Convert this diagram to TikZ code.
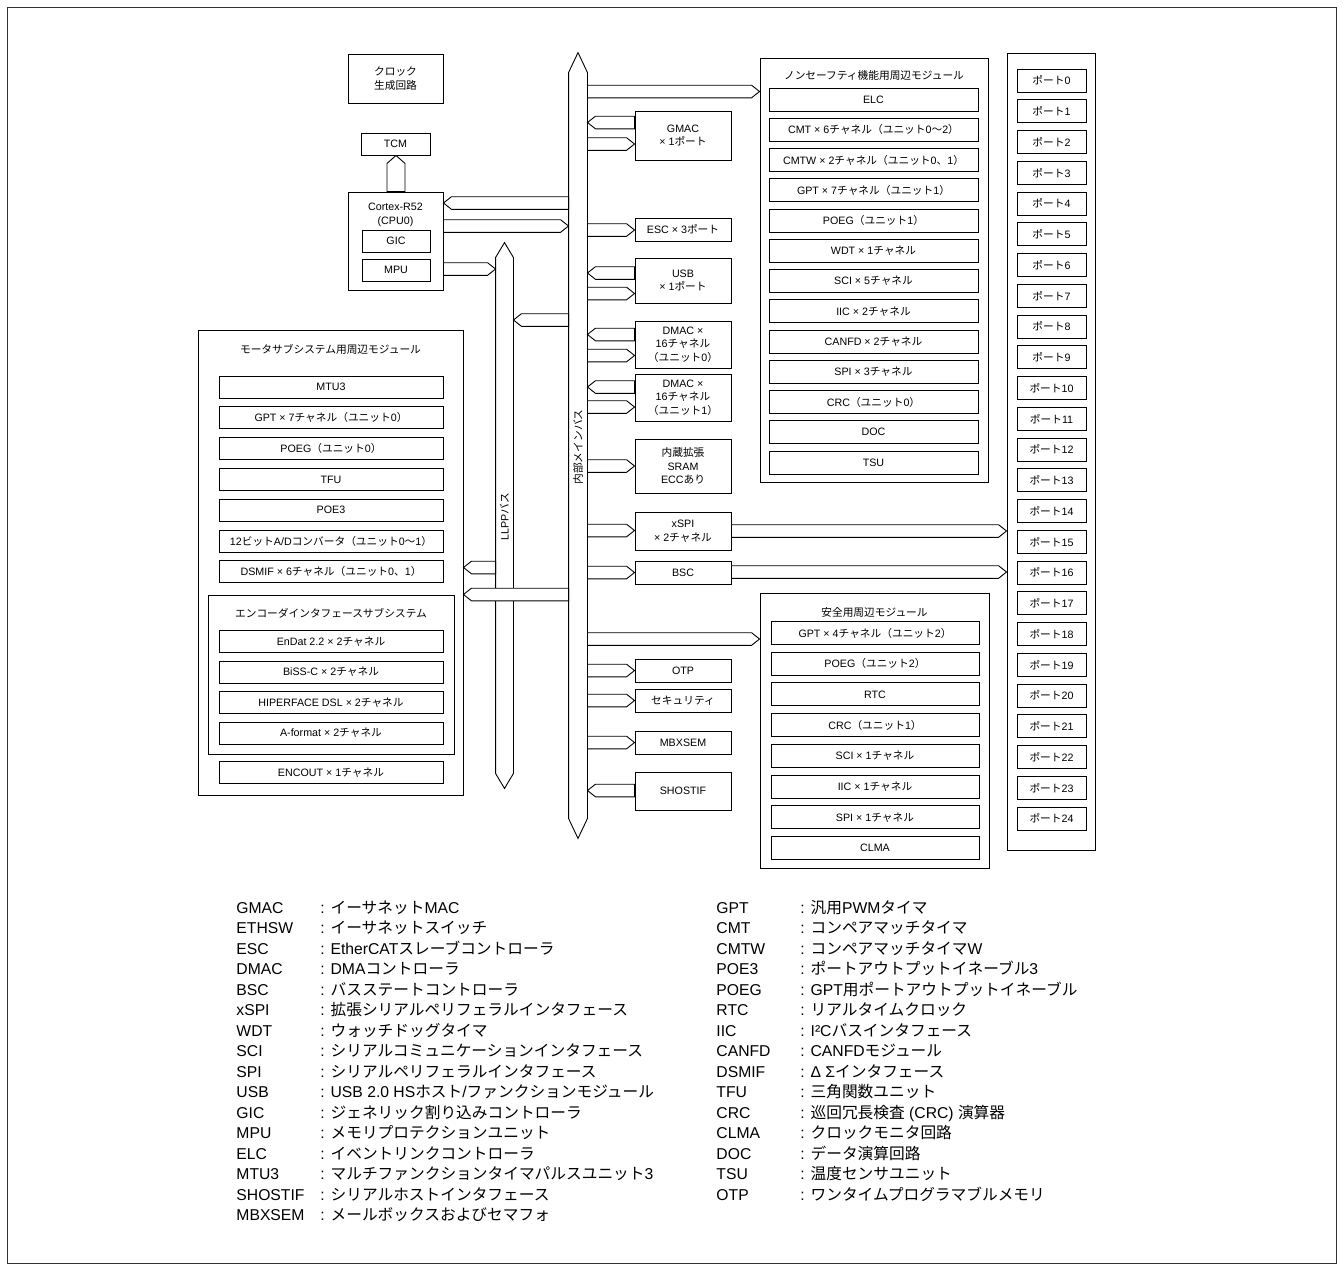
\documentclass[tikz,border=0pt]{standalone}
\usepackage{fontspec}
\setmainfont{Liberation Sans}
\newfontfamily\jpfont{Noto Sans CJK JP}
\usetikzlibrary{calc}

% Japanese runs are set in the CJK family
\newcommand{\jt}[1]{{\jpfont #1}}
\newcommand{\blkfont}{\fontsize{10.7}{13.5}\selectfont}
\newcommand{\legfont}{\fontsize{15.7}{19}\selectfont}

\tikzset{
  blk/.style={draw, fill=white, inner sep=0pt, align=center, font=\blkfont},
  midbox/.style={blk, minimum width=96pt},
  grpbox/.style={draw, fill=white, inner sep=0pt},
  lbl/.style={inner sep=0pt, align=center, font=\blkfont},
  busline/.style={draw, fill=white, line join=miter},
  legtxt/.style={inner sep=0pt, anchor=base west, font=\legfont}
}

% wide hollow arrow: from #1 to #2 (tip), centre line at y = #3
\newcommand{\busarrow}[3]{%
  \coordinate (by) at (0,#3);
  \path (#1 |- by) coordinate (ba) (#2 |- by) coordinate (bt);
  \path ($(bt)!8pt!(ba)$) coordinate (bh);
  \draw[busline] ([yshift=6.3pt]ba) -- ([yshift=6.3pt]bh) -- (bt)
    -- ([yshift=-6.3pt]bh) -- ([yshift=-6.3pt]ba) -- cycle;}
% same, upright, centre line at x = #3
\newcommand{\vbusarrow}[3]{%
  \coordinate (bx) at (#3,0);
  \path (bx |- #1) coordinate (ba) (bx |- #2) coordinate (bt);
  \path ($(bt)!8pt!(ba)$) coordinate (bh);
  \draw[busline] ([xshift=-9pt]ba) -- ([xshift=-9pt]bh) -- (bt)
    -- ([xshift=9pt]bh) -- ([xshift=9pt]ba) -- cycle;}

\begin{document}
\begin{tikzpicture}[x=1pt, y=-1pt, line width=0.9pt]
\useasboundingbox (0,0) rectangle (1343,1270);
\draw[line width=0.7pt, black!80] (7,7) rectangle (1336,1263);

% CPU side
\node[blk, minimum width=95pt, minimum height=49pt] (clk) at (395.5,78.5) {\jt{クロック}\\\jt{生成回路}};
\node[blk, minimum width=69pt, minimum height=22pt] (tcm) at (395.5,144) {TCM};
\node[blk, minimum width=95pt, minimum height=98pt] (cpu) at (395.5,241) {};
\node[lbl] (cpulbl) at (395.5,215) {Cortex-R52\\(CPU0)};
\node[blk, minimum width=68pt, minimum height=22pt] (gic) at (396,241) {GIC};
\node[blk, minimum width=68pt, minimum height=22pt] (mpu) at (396,270) {MPU};
\vbusarrow{cpu.north}{tcm.south}{396}

% groups of modules
\node[grpbox, minimum width=228pt, minimum height=424pt] (nsm) at (874,270) {};
\node[lbl] (nsmlbl) at (874,75) {\jt{ノンセーフティ機能用周辺モジュール}};
\foreach \txt [count=\i from 0] in {ELC,
  CMT × 6\jt{チャネル（ユニット}0\jt{〜}2\jt{）},
  CMTW × 2\jt{チャネル（ユニット}0\jt{、}1\jt{）},
  GPT × 7\jt{チャネル（ユニット}1\jt{）},
  POEG\jt{（ユニット}1\jt{）},
  WDT × 1\jt{チャネル},
  SCI × 5\jt{チャネル},
  IIC × 2\jt{チャネル},
  CANFD × 2\jt{チャネル},
  SPI × 3\jt{チャネル},
  CRC\jt{（ユニット}0\jt{）},
  DOC,
  TSU}
  \node[blk, minimum width=209pt, minimum height=23pt] (ns\i) at (873.5,99.5+30.25*\i) {\txt};

\node[grpbox, minimum width=229pt, minimum height=275pt] (sfm) at (874.5,730.5) {};
\node[lbl] (sfmlbl) at (874.5,612) {\jt{安全用周辺モジュール}};
\foreach \txt [count=\i from 0] in {GPT × 4\jt{チャネル（ユニット}2\jt{）},
  POEG\jt{（ユニット}2\jt{）},
  RTC,
  CRC\jt{（ユニット}1\jt{）},
  SCI × 1\jt{チャネル},
  IIC × 1\jt{チャネル},
  SPI × 1\jt{チャネル},
  CLMA}
  \node[blk, minimum width=208pt, minimum height=23pt] (sf\i) at (875,633+30.7*\i) {\txt};

\node[grpbox, minimum width=88pt, minimum height=797pt] (prt) at (1051,451.5) {};
\foreach \i in {0,...,24}
  \node[blk, minimum width=69pt, minimum height=23pt] (p\i) at (1051.5,80.5+30.75*\i) {\jt{ポート}\i};

\node[grpbox, minimum width=265pt, minimum height=465pt] (mtm) at (330.5,562.5) {};
\node[lbl] (mtmlbl) at (330.5,349) {\jt{モータサブシステム用周辺モジュール}};
\foreach \txt [count=\i from 0] in {MTU3,
  GPT × 7\jt{チャネル（ユニット}0\jt{）},
  POEG\jt{（ユニット}0\jt{）},
  TFU,
  POE3,
  12\jt{ビット}A/D\jt{コンバータ（ユニット}0\jt{〜}1\jt{）},
  DSMIF × 6\jt{チャネル（ユニット}0\jt{、}1\jt{）}}
  \node[blk, minimum width=224pt, minimum height=22pt] (mt\i) at (331,387+30.8*\i) {\txt};
\node[grpbox, minimum width=246pt, minimum height=159pt] (enc) at (331,674.5) {};
\node[lbl] (enclbl) at (331,613) {\jt{エンコーダインタフェースサブシステム}};
\foreach \txt [count=\i from 0] in {EnDat 2.2 × 2\jt{チャネル},
  BiSS-C × 2\jt{チャネル},
  HIPERFACE DSL × 2\jt{チャネル},
  A-format × 2\jt{チャネル}}
  \node[blk, minimum width=224pt, minimum height=22pt] (en\i) at (331,641.5+30.5*\i) {\txt};
\node[blk, minimum width=224pt, minimum height=22pt] (encout) at (331,772.5) {ENCOUT × 1\jt{チャネル}};

% blocks on the main bus
\node[midbox, minimum height=49pt] (gmac) at (683,135.5) {GMAC\\× 1\jt{ポート}};
\node[midbox, minimum height=23pt] (esc) at (683,229.5) {ESC × 3\jt{ポート}};
\node[midbox, minimum height=45pt] (usb) at (683,280.5) {USB\\× 1\jt{ポート}};
\node[midbox, minimum height=47pt] (dma0) at (683,344.5) {DMAC ×\\16\jt{チャネル}\\\jt{（ユニット}0\jt{）}};
\node[midbox, minimum height=47pt] (dma1) at (683,397.5) {DMAC ×\\16\jt{チャネル}\\\jt{（ユニット}1\jt{）}};
\node[midbox, minimum height=54pt] (sram) at (683,466) {\jt{内蔵拡張}\\SRAM\\ECC\jt{あり}};
\node[midbox, minimum height=38pt] (xspi) at (683,531) {xSPI\\× 2\jt{チャネル}};
\node[midbox, minimum height=23pt] (bsc) at (683,572.5) {BSC};
\node[midbox, minimum height=23pt] (otp) at (683,670.5) {OTP};
\node[midbox, minimum height=23pt] (sec) at (683,700.5) {\jt{セキュリティ}};
\node[midbox, minimum height=23pt] (mbx) at (683,742.5) {MBXSEM};
\node[midbox, minimum height=38pt] (shost) at (683,791) {SHOSTIF};

% the two buses
\node[inner sep=0pt, minimum width=18pt, minimum height=785pt] (mbus) at (578,445.5) {};
\draw[busline] (mbus.north) -- ([yshift=-20pt]mbus.north east) -- ([yshift=20pt]mbus.south east)
  -- (mbus.south) -- ([yshift=20pt]mbus.south west) -- ([yshift=-20pt]mbus.north west) -- cycle;
\node[lbl, rotate=90] (mbuslbl) at (578,447) {\jt{内部メインバス}};
\node[inner sep=0pt, minimum width=17pt, minimum height=545pt] (llpp) at (504.5,515.5) {};
\draw[busline] (llpp.north) -- ([yshift=-15pt]llpp.north east) -- ([yshift=15pt]llpp.south east)
  -- (llpp.south) -- ([yshift=15pt]llpp.south west) -- ([yshift=-15pt]llpp.north west) -- cycle;
\node[lbl, rotate=90] (llpplbl) at (504.5,517) {LLPP\jt{バス}};

% bus connections
\busarrow{mbus.east}{nsm.west}{91.5}
\busarrow{gmac.west}{mbus.east}{122.5}
\busarrow{mbus.east}{gmac.west}{144}
\busarrow{mbus.west}{cpu.east}{203}
\busarrow{cpu.east}{mbus.west}{226}
\busarrow{mbus.east}{esc.west}{230}
\busarrow{cpu.east}{llpp.west}{269}
\busarrow{usb.west}{mbus.east}{273}
\busarrow{mbus.east}{usb.west}{293.5}
\busarrow{mbus.west}{llpp.east}{320}
\busarrow{dma0.west}{mbus.east}{334.5}
\busarrow{mbus.east}{dma0.west}{355.5}
\busarrow{dma1.west}{mbus.east}{387}
\busarrow{mbus.east}{dma1.west}{407}
\busarrow{mbus.east}{sram.west}{466}
\busarrow{mbus.east}{xspi.west}{530.5}
\busarrow{xspi.east}{prt.west}{531}
\busarrow{mbus.east}{bsc.west}{572.5}
\busarrow{bsc.east}{prt.west}{572}
\busarrow{llpp.west}{mtm.east}{567.5}
\busarrow{mbus.west}{mtm.east}{594.5}
\busarrow{mbus.east}{sfm.west}{639}
\busarrow{mbus.east}{otp.west}{670.5}
\busarrow{mbus.east}{sec.west}{700.5}
\busarrow{mbus.east}{mbx.west}{742.5}
\busarrow{shost.west}{mbus.east}{790.5}

% abbreviations
\foreach \ab/\df [count=\i from 0] in {GMAC/\jt{イーサネット}MAC,
  ETHSW/\jt{イーサネットスイッチ},
  ESC/EtherCAT\jt{スレーブコントローラ},
  DMAC/DMA\jt{コントローラ},
  BSC/\jt{バスステートコントローラ},
  xSPI/\jt{拡張シリアルペリフェラルインタフェース},
  WDT/\jt{ウォッチドッグタイマ},
  SCI/\jt{シリアルコミュニケーションインタフェース},
  SPI/\jt{シリアルペリフェラルインタフェース},
  USB/{USB 2.0 HS\jt{ホスト}/\jt{ファンクションモジュール}},
  GIC/\jt{ジェネリック割り込みコントローラ},
  MPU/\jt{メモリプロテクションユニット},
  ELC/\jt{イベントリンクコントローラ},
  MTU3/\jt{マルチファンクションタイマパルスユニット}3,
  SHOSTIF/\jt{シリアルホストインタフェース},
  MBXSEM/\jt{メールボックスおよびセマフォ}}{
  \node[legtxt] (lab\i) at (236,913+20.5*\i) {\ab};
  \node[legtxt] (ldf\i) at (320,913+20.5*\i) {: \df};
}
\foreach \ab/\df [count=\i from 0] in {GPT/\jt{汎用}PWM\jt{タイマ},
  CMT/\jt{コンペアマッチタイマ},
  CMTW/\jt{コンペアマッチタイマ}W,
  POE3/\jt{ポートアウトプットイネーブル}3,
  POEG/GPT\jt{用ポートアウトプットイネーブル},
  RTC/\jt{リアルタイムクロック},
  IIC/I²C\jt{バスインタフェース},
  CANFD/CANFD\jt{モジュール},
  DSMIF/Δ Σ\jt{インタフェース},
  TFU/\jt{三角関数ユニット},
  CRC/\jt{巡回冗長検査} (CRC) \jt{演算器},
  CLMA/\jt{クロックモニタ回路},
  DOC/\jt{データ演算回路},
  TSU/\jt{温度センサユニット},
  OTP/\jt{ワンタイムプログラマブルメモリ}}{
  \node[legtxt] (rab\i) at (716,913+20.5*\i) {\ab};
  \node[legtxt] (rdf\i) at (800,913+20.5*\i) {: \df};
}
\end{tikzpicture}
\end{document}
